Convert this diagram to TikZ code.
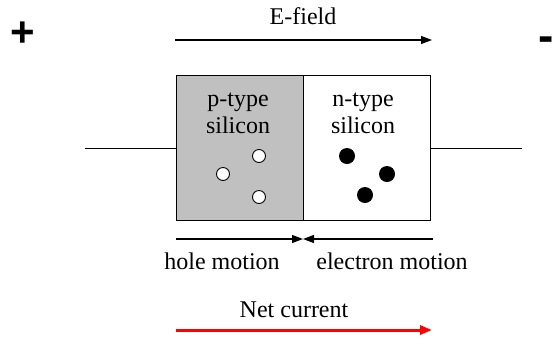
\documentclass[tikz,border=0pt]{standalone}
\usepackage{fontspec}
\setmainfont{Liberation Serif}
\newfontfamily\serifx{Liberation Serif}
\newfontfamily\signfont{Liberation Sans}
\usetikzlibrary{arrows.meta}
\definecolor{pgray}{RGB}{192,192,192}
\begin{document}
\begin{tikzpicture}[x=1pt,y=-1pt,
  lbl/.style={font=\serifx\fontsize{24}{27}\selectfont, inner sep=0pt, anchor=base, align=center},
  arr/.style={line width=1.2pt, -{Triangle[length=11pt,width=8pt]}},
  hole/.style={circle, draw, fill=white, minimum size=13pt, inner sep=0pt, line width=0.9pt},
  elec/.style={circle, fill=black, minimum size=16pt, inner sep=0pt},
  wire/.style={line width=1pt}]
\useasboundingbox (0,0) rectangle (553,338);
% signs
\node[font=\signfont\bfseries\fontsize{42}{42}\selectfont, inner sep=0pt] (plus) at (22.5,34.5) {+};
\node[font=\signfont\bfseries\fontsize{46}{46}\selectfont, inner sep=0pt, anchor=base] (minus) at (546,51) {-};
% E-field
\coordinate (ef1) at (175,40);
\coordinate (ef2) at (432,40);
\draw[arr] (ef1) -- (ef2);
\node[lbl] (eflbl) at (303,24) {E-field};
% box
\node[draw, fill=pgray, line width=1pt, minimum width=127pt, minimum height=145pt, inner sep=0pt, anchor=north west] (pbox) at (176,75) {};
\node[draw, fill=white, line width=1pt, minimum width=127pt, minimum height=145pt, inner sep=0pt, anchor=north west] (nbox) at (303,75) {};
\node[lbl] (ptxt) at (238,133) {p-type\\silicon};
\node[lbl] (ntxt) at (363,133) {n-type\\silicon};
% wires
\coordinate (wl) at (85,148);
\coordinate (wr) at (522,148);
\draw[wire] (wl) -- (pbox.west |- wl);
\draw[wire] (nbox.east |- wr) -- (wr);
% holes
\node[hole] (h1) at (259,156) {};
\node[hole] (h2) at (223,174) {};
\node[hole] (h3) at (259,197) {};
% electrons
\node[elec] (e1) at (347,156) {};
\node[elec] (e2) at (387,174) {};
\node[elec] (e3) at (365,195) {};
% motion arrows
\coordinate (hm1) at (176,239);
\coordinate (mid) at (303,239);
\coordinate (em1) at (433,239);
\draw[arr] (hm1) -- (mid);
\draw[arr] (em1) -- (mid);
\node[lbl] (hmlbl) at (222,269) {hole motion};
\node[lbl] (emlbl) at (392,269) {electron motion};
% net current
\node[lbl] (nclbl) at (294,317) {Net current};
\coordinate (nc1) at (176,330);
\coordinate (nc2) at (432,330);
\draw[red, line width=3pt, -{Triangle[length=12pt,width=9pt]}] (nc1) -- (nc2);
\end{tikzpicture}
\end{document}
